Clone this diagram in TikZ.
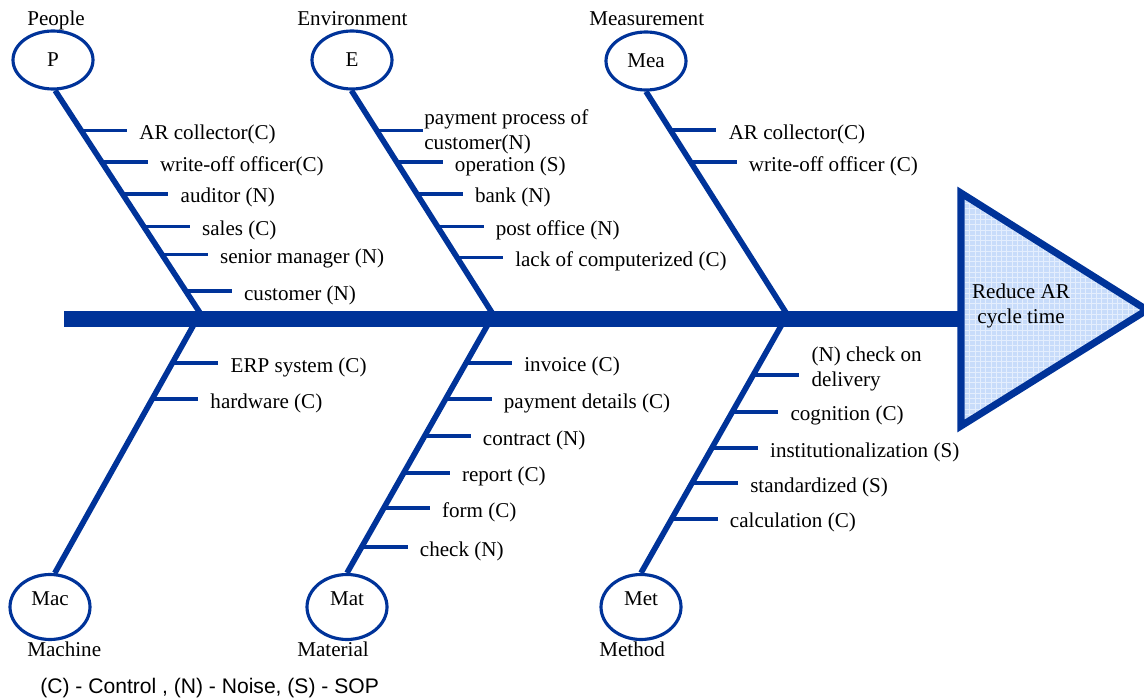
\documentclass[tikz,border=0pt]{standalone}
\usepackage{fontspec}
\setmainfont{Liberation Serif}
\newfontfamily\keyfont{Liberation Sans}
\usetikzlibrary{positioning,calc,shapes.geometric,patterns}
\definecolor{bone}{RGB}{0,51,153}
\definecolor{headfill}{RGB}{200,220,250}
\definecolor{gridline}{RGB}{228,238,253}

\begin{document}
\begin{tikzpicture}[x=0.02cm,y=-0.02cm,font=\fontsize{12pt}{14.2pt}\selectfont,
    cause/.style={inner xsep=7pt,inner ysep=1pt,outer sep=0pt,right=0.92cm of #1,yshift=-0.08cm},
    cat/.style={inner sep=0pt,anchor=base west}]

        \useasboundingbox (0,0) rectangle (1144,699);

        \coordinate (tail) at (64,319);
        \coordinate (head) at (960,319);
        \coordinate (jt1) at (204,319);
        \coordinate (jt2) at (496,319);
        \coordinate (jt3) at (790,319);
        \coordinate (jb1) at (197,319);
        \coordinate (jb2) at (491,319);
        \coordinate (jb3) at (785,319);

        \draw[bone,line width=9pt] (tail) -- (head);
        \draw[draw=bone,line width=4pt,line join=miter,preaction={fill=headfill},
              pattern=grid,pattern color=gridline] (961,193) -- (961,426) -- (1147,310) -- cycle;
        \node[align=center] (goal) at (1021,306) {Reduce AR\\cycle time};

        \begin{scope}[every node/.style={ellipse,draw=bone,line width=1.8pt,inner sep=0pt,
                                         minimum width=1.6cm,minimum height=1.16cm}]
          \node (P)   at (53,60)  {P};
          \node (E)   at (352,60) {E};
          \node (Mea) at (646,61) {Mea};
        \end{scope}
        \begin{scope}[every node/.style={ellipse,draw=bone,line width=1.8pt,inner sep=0pt,
                                         minimum width=1.6cm,minimum height=1.3cm,
                                         text height=8pt,text depth=10pt}]
          \node (Mac) at (50,607)  {Mac};
          \node (Mat) at (347,607) {Mat};
          \node (Met) at (641,607) {Met};
        \end{scope}

        \node[cat] (people) at (27,26)  {People};
        \node[cat] (envir)  at (297,26) {Environment};
        \node[cat] (measur) at (589,26) {Measurement};
        \node[cat] (machin) at (27,656)  {Machine};
        \node[cat] (materi) at (297,656) {Material};
        \node[cat] (method) at (599,656) {Method};
        \node[cat,font=\keyfont\fontsize{12pt}{14pt}\selectfont] (key) at (40,693)
             {(C) - Control , (N) - Noise, (S) - SOP};

        \begin{scope}[every edge/.style={draw=bone,line width=3.2pt}]
          \path (P.-86) edge (jt1);
          \path (E.-91) edge (jt2);
          \path (Mea.south) edge (jt3);
          \path (jb1) edge (Mac.82);
          \path (jb2) edge (Mat.north);
          \path (jb3) edge (Met.north);
        \end{scope}

        \coordinate (p1) at ($(P.-86)!.174!(jt1)$);
        \coordinate (p2) at ($(P.-86)!.313!(jt1)$);
        \coordinate (p3) at ($(P.-86)!.452!(jt1)$);
        \coordinate (p4) at ($(P.-86)!.596!(jt1)$);
        \coordinate (p5) at ($(P.-86)!.717!(jt1)$);
        \coordinate (p6) at ($(P.-86)!.878!(jt1)$);
        \coordinate (e1) at ($(E.-91)!.174!(jt2)$);
        \coordinate (e2) at ($(E.-91)!.313!(jt2)$);
        \coordinate (e3) at ($(E.-91)!.452!(jt2)$);
        \coordinate (e4) at ($(E.-91)!.596!(jt2)$);
        \coordinate (e5) at ($(E.-91)!.730!(jt2)$);
        \coordinate (m1) at ($(Mea.south)!.170!(jt3)$);
        \coordinate (m2) at ($(Mea.south)!.310!(jt3)$);
        \coordinate (c1) at ($(jb1)!.173!(Mac.82)$);
        \coordinate (c2) at ($(jb1)!.315!(Mac.82)$);
        \coordinate (t1) at ($(jb2)!.173!(Mat.north)$);
        \coordinate (t2) at ($(jb2)!.315!(Mat.north)$);
        \coordinate (t3) at ($(jb2)!.461!(Mat.north)$);
        \coordinate (t4) at ($(jb2)!.606!(Mat.north)$);
        \coordinate (t5) at ($(jb2)!.744!(Mat.north)$);
        \coordinate (t6) at ($(jb2)!.898!(Mat.north)$);
        \coordinate (d1) at ($(jb3)!.220!(Met.north)$);
        \coordinate (d2) at ($(jb3)!.366!(Met.north)$);
        \coordinate (d3) at ($(jb3)!.508!(Met.north)$);
        \coordinate (d4) at ($(jb3)!.646!(Met.north)$);
        \coordinate (d5) at ($(jb3)!.787!(Met.north)$);

        \node[cause=p1] (p1t) {AR collector(C)};
        \node[cause=p2] (p2t) {write-off officer(C)};
        \node[cause=p3] (p3t) {auditor (N)};
        \node[cause=p4] (p4t) {sales (C)};
        \node[cause=p5] (p5t) {senior manager (N)};
        \node[cause=p6] (p6t) {customer (N)};
        \node[cause=e1,inner xsep=1pt,align=left,yshift=0.05cm] (e1t) {payment process of\\customer(N)};
        \node[cause=e2] (e2t) {operation (S)};
        \node[cause=e3] (e3t) {bank (N)};
        \node[cause=e4] (e4t) {post office (N)};
        \node[cause=e5] (e5t) {lack of computerized (C)};
        \node[cause=m1] (m1t) {AR collector(C)};
        \node[cause=m2] (m2t) {write-off officer (C)};
        \node[cause=c1] (c1t) {ERP system (C)};
        \node[cause=c2] (c2t) {hardware (C)};
        \node[cause=t1] (t1t) {invoice (C)};
        \node[cause=t2] (t2t) {payment details (C)};
        \node[cause=t3] (t3t) {contract (N)};
        \node[cause=t4] (t4t) {report (C)};
        \node[cause=t5] (t5t) {form (C)};
        \node[cause=t6] (t6t) {check (N)};
        \node[cause=d1,align=left,yshift=0.19cm] (d1t) {(N) check on\\delivery};
        \node[cause=d2] (d2t) {cognition (C)};
        \node[cause=d3] (d3t) {institutionalization (S)};
        \node[cause=d4] (d4t) {standardized (S)};
        \node[cause=d5] (d5t) {calculation (C)};

        \begin{scope}[every edge/.style={draw=bone,line width=2pt}]
          \path (p1) edge (p1 -| p1t.west);
          \path (p2) edge (p2 -| p2t.west);
          \path (p3) edge (p3 -| p3t.west);
          \path (p4) edge (p4 -| p4t.west);
          \path (p5) edge (p5 -| p5t.west);
          \path (p6) edge (p6 -| p6t.west);
          \path (e1) edge (e1 -| e1t.west);
          \path (e2) edge (e2 -| e2t.west);
          \path (e3) edge (e3 -| e3t.west);
          \path (e4) edge (e4 -| e4t.west);
          \path (e5) edge (e5 -| e5t.west);
          \path (m1) edge (m1 -| m1t.west);
          \path (m2) edge (m2 -| m2t.west);
          \path (c1) edge (c1 -| c1t.west);
          \path (c2) edge (c2 -| c2t.west);
          \path (t1) edge (t1 -| t1t.west);
          \path (t2) edge (t2 -| t2t.west);
          \path (t3) edge (t3 -| t3t.west);
          \path (t4) edge (t4 -| t4t.west);
          \path (t5) edge (t5 -| t5t.west);
          \path (t6) edge (t6 -| t6t.west);
          \path (d1) edge (d1 -| d1t.west);
          \path (d2) edge (d2 -| d2t.west);
          \path (d3) edge (d3 -| d3t.west);
          \path (d4) edge (d4 -| d4t.west);
          \path (d5) edge (d5 -| d5t.west);
        \end{scope}

      \end{tikzpicture}
\end{document}
